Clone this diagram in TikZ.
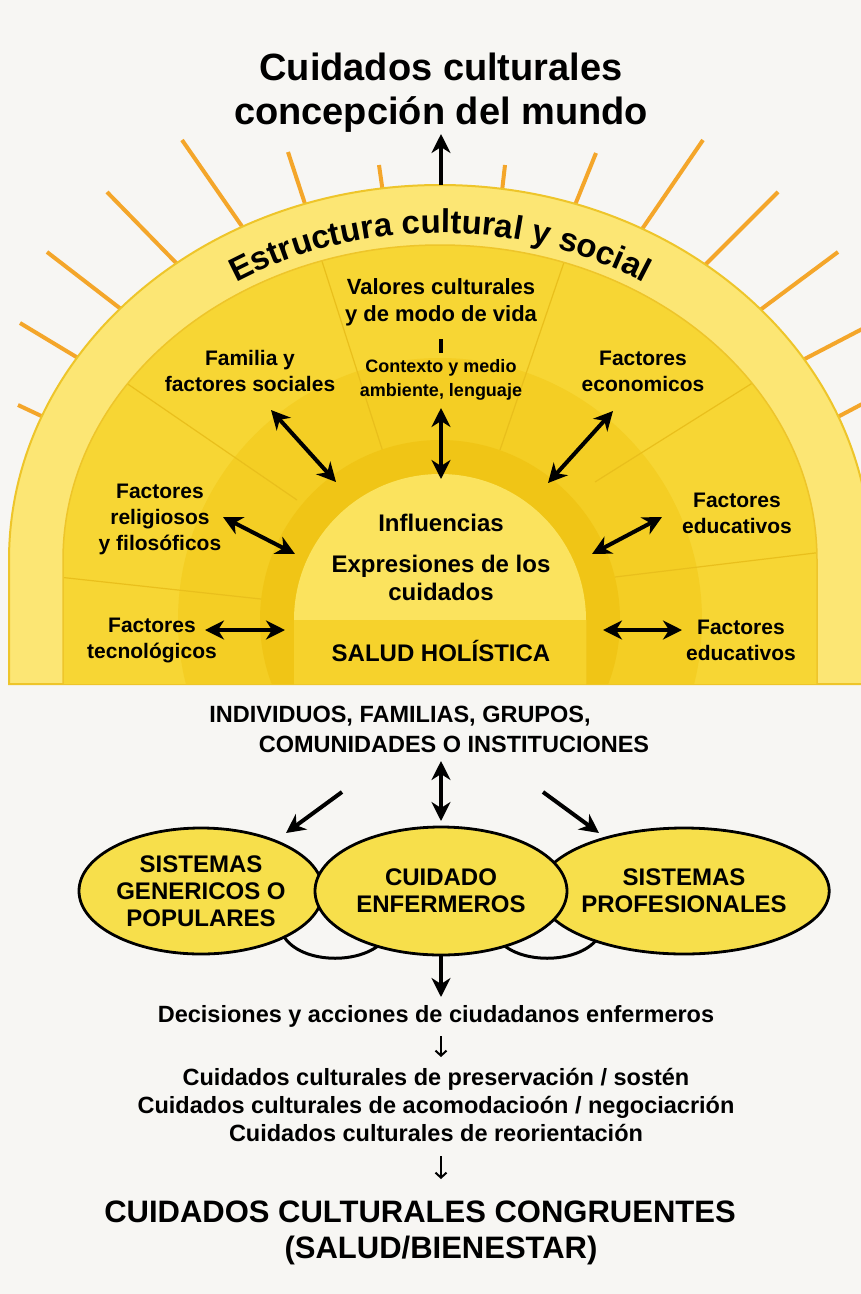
\documentclass[tikz,border=0pt]{standalone}
\usepackage{fontspec}
\setmainfont{Liberation Sans}
\usetikzlibrary{shapes.geometric,arrows.meta,decorations.text}

\definecolor{fondo}{HTML}{F7F6F3}
\definecolor{rayo}{HTML}{F4A62A}
\definecolor{banda}{HTML}{FCE674}
\definecolor{bordebanda}{HTML}{EEC52A}
\definecolor{sector}{HTML}{F7D634}
\definecolor{anillo}{HTML}{F4CE24}
\definecolor{anillooscuro}{HTML}{F0C516}
\definecolor{disco}{HTML}{FBE35E}
\definecolor{discobajo}{HTML}{F6D22C}
\definecolor{lineasector}{HTML}{E9BF1C}
\definecolor{sistema}{HTML}{F7DF4B}

\begin{document}
\begin{tikzpicture}[x=1pt,y=1pt,>={Stealth[length=19pt,width=19pt,inset=6pt]},
    titulo/.style={font=\fontsize{38}{44}\selectfont\bfseries,align=center},
    etiqueta/.style={font=\fontsize{21}{26}\selectfont\bfseries,align=center},
    centro/.style={font=\fontsize{24}{28}\selectfont\bfseries,align=center},
    texto/.style={font=\fontsize{23.5}{28}\selectfont\bfseries,align=center},
    sistema node/.style={ellipse,draw=black,line width=2.8pt,fill=sistema,minimum width=244pt,minimum height=126pt,inner sep=0pt,align=center,font=\fontsize{24}{27}\selectfont\bfseries},
    flecha/.style={draw=black,line width=4pt},
    flechita/.style={draw=black,line width=2pt,-{Straight Barb[length=5pt,width=11pt]}}]

    \fill[fondo] (0,0) rectangle (861,-1294);
    \useasboundingbox (0,0) rectangle (861,-1294);

    % rays behind the sun
    \foreach \a/\b/\c/\d in {18/405/52/421, 20/323/88/364, 47/252/130/316, 107/192/183/270,
        182/140/248/235, 288/152/307/210, 379/165/384/200, 505/165/501/200, 596/153/573/210,
        703/140/638/235, 778/192/700/270, 838/252/752/316, 866/327/795/364, 866/402/830/421}
        \draw[rayo,line width=4pt] (\a,-\b) -- (\c,-\d);

    % outer band
    \path[fill=banda,draw=bordebanda,line width=2pt] (9,-684) -- (9,-560)
        arc[start angle=180,end angle=0,x radius=431pt,y radius=375pt] -- (871,-684) -- cycle;

    \begin{scope}
        \clip (63,-684) -- (63,-560)
            arc[start angle=180,end angle=0,x radius=377pt,y radius=315pt] -- (817,-684) -- cycle;
        \fill[sector] (0,0) rectangle (861,-684);
        \fill[anillo] (440,-620) circle[radius=262pt];
        \foreach \a/\b/\c/\d in {40/575/270/600, 100/365/297/500, 312/230/383/452,
            575/230/500/450, 770/372/595/482, 840/550/615/577}
            \draw[lineasector,line width=1.2pt] (\a,-\b) -- (\c,-\d);
        \fill[anillooscuro] (440,-620) circle[radius=180pt];
        \fill[disco] (294,-684) -- (294,-620) arc[start angle=180,end angle=0,radius=146pt] -- (586,-684) -- cycle;
        \fill[discobajo] (294,-620) rectangle (586,-684);
    \end{scope}
    \draw[bordebanda,line width=1.5pt] (63,-684) -- (63,-560)
        arc[start angle=180,end angle=0,x radius=377pt,y radius=315pt] -- (817,-684);

    \path[decorate,decoration={text along path,text align=center,
        text={|\fontsize{33}{33}\selectfont\bfseries|Estructura cultural y social}}]
        (55,-560) arc[start angle=180,end angle=0,x radius=385pt,y radius=327pt];

    \node[titulo] at (441, -93) (titulo) {Cuidados culturales\\concepción del mundo};

    \node[etiqueta,font=\fontsize{22}{27}\selectfont\bfseries] at (441, -302) (valores) {Valores culturales\\y de modo de vida};
    \node[etiqueta,font=\fontsize{18}{24}\selectfont\bfseries] at (441, -380) (contexto) {Contexto y medio\\ambiente, lenguaje};
    \node[etiqueta] at (250, -371) (familia) {Familia y\\factores sociales};
    \node[etiqueta] at (643, -371) (economicos) {Factores\\economicos};
    \node[etiqueta] at (160, -519) (religiosos) {Factores\\religiosos\\y filosóficos};
    \node[etiqueta] at (737, -513) (educativos) {Factores\\educativos};
    \node[etiqueta] at (152, -640) (tecnologicos) {Factores\\tecnológicos};
    \node[etiqueta] at (741, -640) (educativosb) {Factores\\educativos};
    \node[centro] at (441, -523) (influencias) {Influencias};
    \node[centro] at (441, -578) (expresiones) {Expresiones de los\\cuidados};
    \node[centro] at (441, -651) (salud) {SALUD HOLÍSTICA};

    \coordinate (sol) at (441, -185);
    \coordinate (mundo) at (441, -134);
    \coordinate (valA) at (441, -339);
    \coordinate (valB) at (441, -353);
    \coordinate (conA) at (441, -408);
    \coordinate (conB) at (441, -479);
    \coordinate (famA) at (271, -410);
    \coordinate (famB) at (336, -482);
    \coordinate (ecoA) at (613, -411);
    \coordinate (ecoB) at (548, -483);
    \coordinate (relA) at (223, -517);
    \coordinate (relB) at (295, -554);
    \coordinate (eduA) at (662, -517);
    \coordinate (eduB) at (592, -554);
    \coordinate (tecA) at (205, -630);
    \coordinate (tecB) at (285, -630);
    \coordinate (edbA) at (603, -630);
    \coordinate (edbB) at (682, -630);

    \path[flecha]
        (sol) edge[->] (mundo)
        (valA) edge (valB)
        (conA) edge[<->] (conB)
        (famA) edge[<->] (famB)
        (ecoA) edge[<->] (ecoB)
        (relA) edge[<->] (relB)
        (eduA) edge[<->] (eduB)
        (tecA) edge[<->] (tecB)
        (edbA) edge[<->] (edbB);

    \node[texto] at (400, -716) (individuos) {INDIVIDUOS, FAMILIAS, GRUPOS,};
    \node[texto] at (454, -744) (comunidades) {COMUNIDADES O INSTITUCIONES};

    % links under the ellipses
    \draw[line width=3pt] (283,-935) .. controls (300,-966) and (370,-966) .. (388,-935);
    \draw[line width=3pt] (495,-935) .. controls (512,-966) and (582,-966) .. (600,-935);

    \node[sistema node] at (201, -891) (genericos) {SISTEMAS\\GENERICOS O\\POPULARES};
    \node[sistema node] at (684, -891) (profesionales) {SISTEMAS\\PROFESIONALES};
    \node[sistema node,minimum width=252pt,minimum height=128pt] at (441, -891) (cuidado) {CUIDADO\\ENFERMEROS};

    \coordinate (indA) at (441, -761);
    \coordinate (indB) at (441, -821);
    \coordinate (izqA) at (342, -792);
    \coordinate (izqB) at (286, -833);
    \coordinate (derA) at (543, -792);
    \coordinate (derB) at (599, -833);
    \coordinate (decA) at (441, -955);
    \coordinate (decB) at (441, -997);

    \path[flecha]
        (indA) edge[<->] (indB)
        (izqA) edge[->] (izqB)
        (derA) edge[->] (derB)
        (decA) edge[->] (decB);

    \node[texto] at (436, -1016) (decisiones) {Decisiones y acciones de ciudadanos enfermeros};
    \node[texto] at (436, -1105) (acciones) {Cuidados culturales de preservación / sostén\\Cuidados culturales de acomodacioón / negociacrión\\Cuidados culturales de reorientación};
    \node[texto,font=\fontsize{31}{36}\selectfont\bfseries] at (420, -1212) (congruentes) {CUIDADOS CULTURALES CONGRUENTES};
    \node[texto,font=\fontsize{31}{36}\selectfont\bfseries] at (441, -1250) (bienestar) {(SALUD/BIENESTAR)};

    \coordinate (flA) at (441, -1036);
    \coordinate (flB) at (441, -1057);
    \coordinate (fmA) at (441, -1156);
    \coordinate (fmB) at (441, -1179);
    \path (flA) edge[flechita] (flB)
          (fmA) edge[flechita] (fmB);
\end{tikzpicture}
\end{document}
